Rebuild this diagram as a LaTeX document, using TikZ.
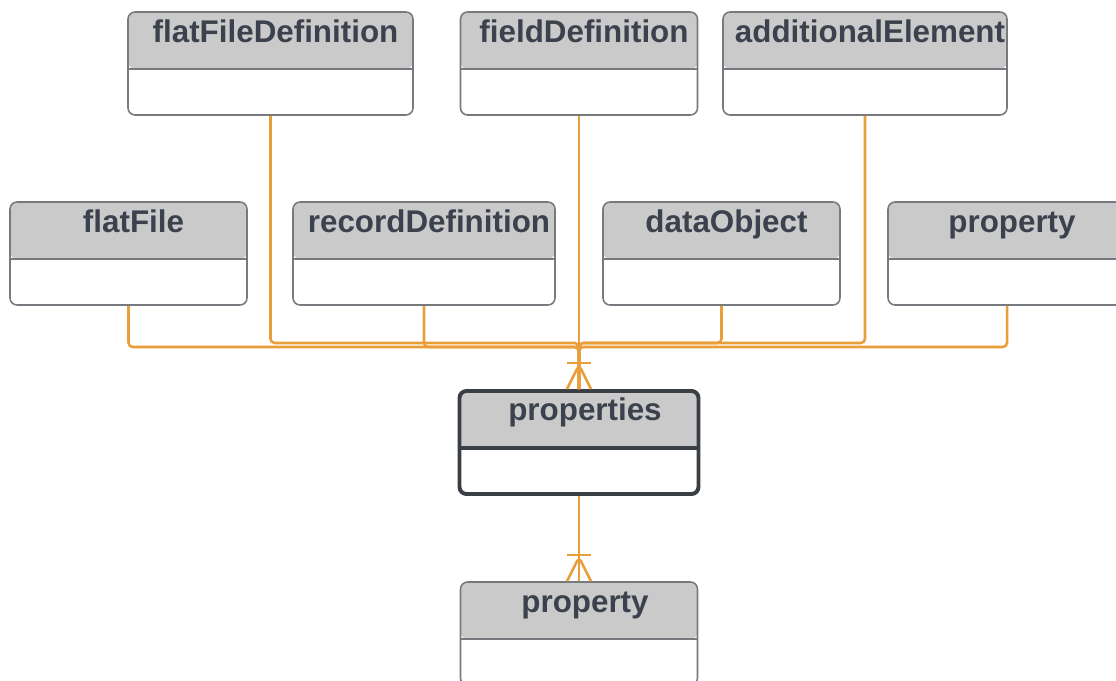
\documentclass[tikz,border=0pt]{standalone}
\usepackage{fontspec}
\setmainfont{Liberation Sans}
\usetikzlibrary{positioning}
\definecolor{linkorange}{RGB}{234,158,58}
\definecolor{headgray}{RGB}{202,202,202}
\definecolor{boxgray}{RGB}{118,121,126}
\definecolor{boxdark}{RGB}{58,63,70}
\definecolor{titletext}{RGB}{60,66,77}
\newcommand{\pxu}{0.025cm}
\tikzset{
  entity/.style={draw=#1, line width=1.1pt, rounded corners=5pt, fill=white,
    minimum height=103*\pxu, inner sep=0pt,
    path picture={
      \fill[headgray] (path picture bounding box.north west) rectangle ([yshift=-57*\pxu]path picture bounding box.north east);
      \draw[#1] ([yshift=-57*\pxu]path picture bounding box.north west) -- ([yshift=-57*\pxu]path picture bounding box.north east);
    }},
  entity/.default=boxgray,
  title/.style={anchor=base, text=titletext, font=\bfseries\fontsize{22.3}{26}\selectfont, inner sep=0pt},
  link/.style={draw=linkorange, line width=1.8pt, rounded corners=3pt},
  crowfoot/.pic={
    \draw[link] (-12,0) -- (0,-24) -- (12,0);
    \draw[link] (-12,-26) -- (12,-26);
  }
}
\begin{document}
\begin{tikzpicture}[x=\pxu,y=-\pxu]
\useasboundingbox[fill=white] (0,0) rectangle (1116,681);
% top row
\node[entity, minimum width=285*\pxu] (ffd) at (270.5,63.5) {};
\node[entity, minimum width=237*\pxu] (fd) at (579,63.5) {};
\node[entity, minimum width=284*\pxu] (ae) at (865,63.5) {};
% second row
\node[entity, minimum width=237*\pxu] (ff) at (128.5,253.5) {};
\node[entity, minimum width=262*\pxu] (rd) at (424,253.5) {};
\node[entity, minimum width=237*\pxu] (dob) at (721.5,253.5) {};
\node[entity, minimum width=238*\pxu] (prop) at (1007,253.5) {};
% centre and bottom
\node[entity=boxdark, line width=2.8pt, minimum width=239*\pxu] (props) at (579,442.5) {};
\node[entity, minimum width=237*\pxu] (propb) at (579,633.5) {};

\node[title] at ([xshift=5*\pxu,yshift=-31*\pxu]ffd.north) {flatFileDefinition};
\node[title] at ([xshift=5*\pxu,yshift=-31*\pxu]fd.north) {fieldDefinition};
\node[title] at ([xshift=5*\pxu,yshift=-31*\pxu]ae.north) {additionalElement};
\node[title] at ([xshift=5*\pxu,yshift=-31*\pxu]ff.north) {flatFile};
\node[title] at ([xshift=5*\pxu,yshift=-31*\pxu]rd.north) {recordDefinition};
\node[title] at ([xshift=5*\pxu,yshift=-31*\pxu]dob.north) {dataObject};
\node[title] at ([xshift=5*\pxu,yshift=-31*\pxu]prop.north) {property};
\node[title] at ([xshift=6*\pxu,yshift=-31*\pxu]props.north) {properties};
\node[title] at ([xshift=6*\pxu,yshift=-31*\pxu]propb.north) {property};

% connectors
\coordinate (hubA) at (579,343);
\coordinate (hubB) at (579,347);
\draw[link] (ffd.south) |- (hubA) -- (props.north);
\draw[link] (ae.south) |- (hubA) -- (props.north);
\draw[link] (dob.south) |- (hubA) -- (props.north);
\draw[link] (fd.south) -- (props.north);
\draw[link] (ff.south) |- (hubB) -- (props.north);
\draw[link] (rd.south) |- (hubB) -- (props.north);
\draw[link] (prop.south) |- (hubB) -- (props.north);
\fill[linkorange] (hubB) circle (3.5);
\pic at (props.north) {crowfoot};
\draw[link] (props.south) -- (propb.north);
\pic at (propb.north) {crowfoot};
\end{tikzpicture}
\end{document}
